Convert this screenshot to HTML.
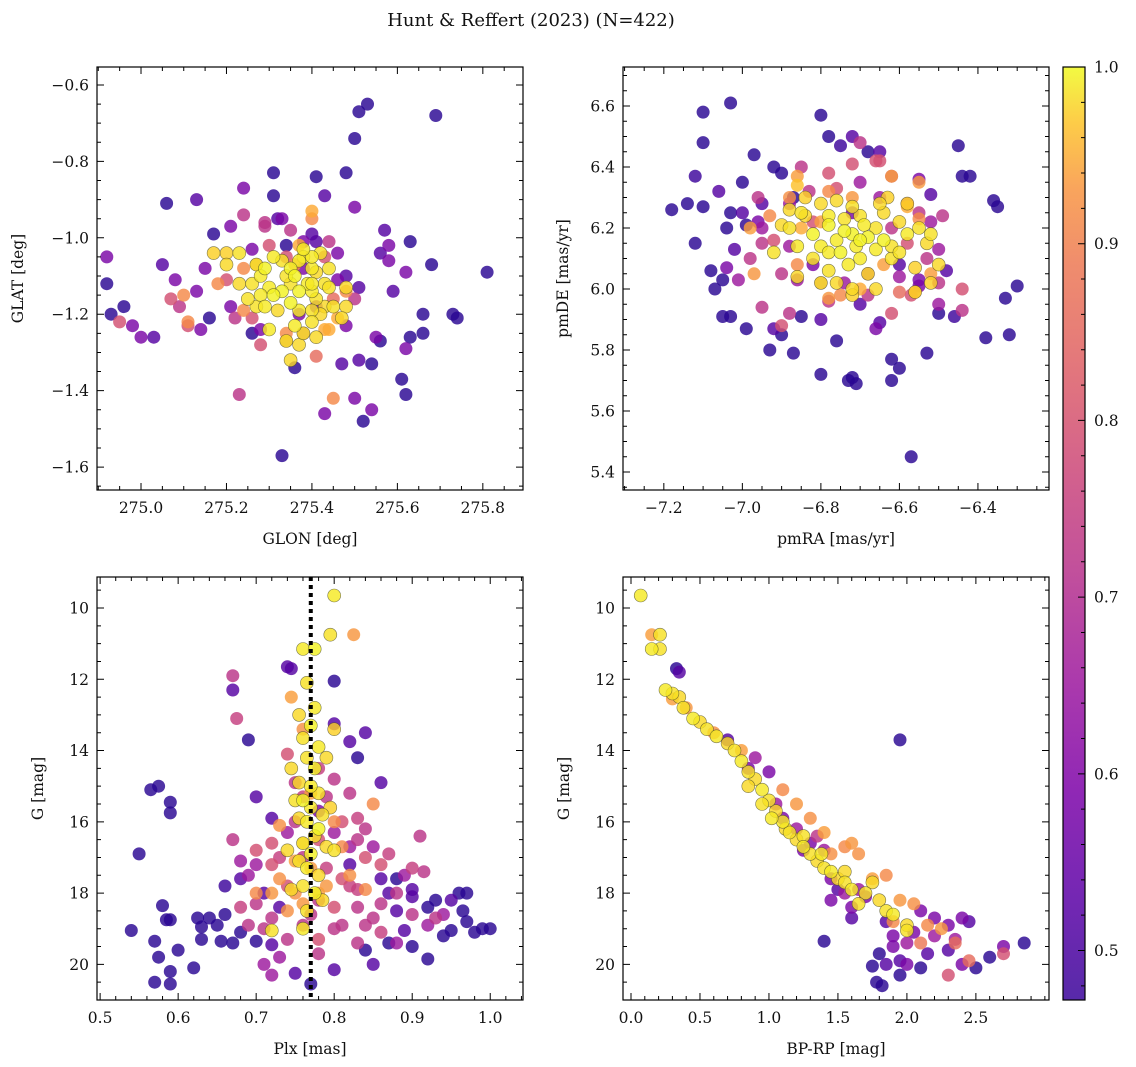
<!DOCTYPE html>
<html><head><meta charset="utf-8"><style>
body{margin:0;background:#fff;}
svg{display:block;font-family:"DejaVu Serif","Liberation Serif",serif;}
</style></head><body>
<svg id="fig" width="1136" height="1067" viewBox="0 0 1136 1067" xmlns="http://www.w3.org/2000/svg">
<defs>
<linearGradient id="cbgrad" x1="0" y1="1" x2="0" y2="0">
<stop offset="0" stop-color="#3a049a"/><stop offset="0.11" stop-color="#5c01a6"/><stop offset="0.23" stop-color="#7e03a8"/><stop offset="0.34" stop-color="#9c179e"/><stop offset="0.45" stop-color="#b52f8c"/><stop offset="0.57" stop-color="#cc4778"/><stop offset="0.68" stop-color="#de5f65"/><stop offset="0.79" stop-color="#ed7953"/><stop offset="0.87" stop-color="#f89540"/><stop offset="0.94" stop-color="#fdc328"/><stop offset="1" stop-color="#f0f921"/>
</linearGradient>
</defs>
<text x="531" y="26" text-anchor="middle" font-size="18" fill="#111">Hunt &amp; Reffert (2023) (N=422)</text>
<g id="layer"></g>
</svg>
<script>
// ---- Panel 1: GLON / GLAT ----
const p1Glon=[274.92,274.92,274.93,274.95,274.96,274.98,275.00,275.03,275.06,275.13,275.17,275.24,275.24,275.31,275.31,275.33,275.34,275.37,275.41,275.41,275.43,275.48,275.50,275.50,275.53,275.51,275.69,275.58,275.59,275.62,275.68,275.63,275.57,275.58,275.56,275.63,275.62,275.61,275.66,275.66,275.81,275.73,275.74,275.62,275.54,275.52,275.50,275.45,275.43,275.51,275.54,275.47,275.23,275.26,275.28,275.36,275.21,275.16,275.14,275.13,275.18,275.20,275.17,275.15,275.09,275.10,275.11,275.08,275.05,275.07,275.11,
275.55,275.56,275.48,275.46,275.51,275.48,275.50,275.48,275.46,275.44,275.40,275.38,275.34,275.30,275.29,275.26,275.27,275.29,275.21,275.32,275.33,275.38,275.35,275.36,275.40,275.37,275.40,275.41,275.43,275.45,275.46,275.43,275.38,275.34,275.34,275.28,275.26,275.22,275.24,275.20,275.24,275.41,
275.23,275.28,275.26,275.29,275.31,275.33,275.35,275.37,275.38,275.40,275.41,275.43,275.44,275.30,275.33,275.35,275.37,275.40,275.41,275.43,275.45,275.48,275.28,275.27,275.29,275.32,275.35,275.37,275.40,275.42,275.36,275.38,275.37,275.34,275.30,275.41,275.35,275.47,275.44,275.40,275.36,275.39,275.34,275.31,275.40,275.25,275.23,275.20,275.27,275.38,275.42,275.48,275.40,275.44];
const p1Glat=[-1.05,-1.12,-1.20,-1.22,-1.18,-1.23,-1.26,-1.26,-0.91,-0.90,-0.99,-0.87,-0.94,-0.89,-0.83,-1.57,-1.05,-1.20,-1.18,-0.84,-0.89,-0.83,-0.74,-0.92,-0.65,-0.67,-0.68,-1.06,-1.14,-1.09,-1.07,-1.01,-0.98,-1.02,-1.04,-1.26,-1.29,-1.37,-1.20,-1.25,-1.09,-1.20,-1.21,-1.41,-1.45,-1.48,-1.42,-1.42,-1.46,-1.32,-1.33,-1.33,-1.41,-1.25,-1.28,-1.34,-1.18,-1.21,-1.24,-1.14,-1.12,-1.04,-1.04,-1.08,-1.18,-1.15,-1.22,-1.11,-1.07,-1.16,-1.23,
-1.26,-1.27,-1.23,-1.11,-1.13,-1.14,-1.16,-1.10,-1.04,-1.01,-0.99,-1.01,-1.02,-1.02,-0.97,-1.03,-1.07,-0.96,-0.97,-0.95,-0.95,-1.08,-0.98,-1.07,-0.95,-1.02,-0.93,-1.01,-1.05,-1.16,-1.21,-1.24,-1.25,-1.27,-1.25,-1.24,-1.21,-1.21,-1.19,-1.11,-1.08,-1.31,
-1.04,-1.10,-1.12,-1.08,-1.05,-1.06,-1.08,-1.06,-1.05,-1.08,-1.09,-1.12,-1.13,-1.13,-1.14,-1.12,-1.14,-1.14,-1.16,-1.18,-1.18,-1.18,-1.15,-1.18,-1.18,-1.19,-1.17,-1.19,-1.19,-1.20,-1.23,-1.25,-1.28,-1.27,-1.24,-1.26,-1.32,-1.21,-1.08,-1.05,-1.10,-1.12,-1.10,-1.15,-1.12,-1.16,-1.12,-1.07,-1.07,-1.03,-1.04,-1.13,-1.22,-1.24];
const p1Prob=[0.6,0.5,0.5,0.75,0.5,0.6,0.6,0.55,0.5,0.55,0.5,0.6,0.7,0.5,0.5,0.5,0.75,0.6,0.6,0.5,0.55,0.5,0.5,0.6,0.5,0.5,0.5,0.6,0.55,0.6,0.5,0.5,0.55,0.6,0.55,0.5,0.6,0.5,0.5,0.5,0.5,0.5,0.5,0.5,0.6,0.5,0.6,0.85,0.6,0.55,0.5,0.55,0.7,0.5,0.75,0.5,0.6,0.5,0.6,0.6,0.85,0.95,0.95,0.6,0.7,0.85,0.85,0.6,0.55,0.75,0.75,
0.6,0.5,0.6,0.6,0.55,0.85,0.7,0.55,0.6,0.7,0.55,0.6,0.5,0.75,0.7,0.6,0.85,0.7,0.6,0.55,0.6,0.6,0.7,0.85,0.85,0.9,0.9,0.55,0.75,0.8,0.9,0.9,0.75,0.8,0.85,0.6,0.75,0.7,0.85,0.75,0.85,0.8,
0.97,0.98,0.97,0.99,0.98,0.97,0.99,0.98,0.97,0.98,0.96,0.97,0.97,0.98,0.99,0.97,0.99,0.98,0.97,0.96,0.97,0.96,0.98,0.97,0.98,0.96,0.99,0.98,0.97,0.96,0.98,0.97,0.96,0.97,0.98,0.96,0.96,0.96,0.97,0.98,0.99,0.98,0.97,0.99,0.98,0.97,0.96,0.96,0.97,0.98,0.97,0.96,0.97,0.9];
const p1XTicks=[275.0,275.2,275.4,275.6,275.8];
const p1XTickLabels=["275.0","275.2","275.4","275.6","275.8"];
const p1YTicks=[-0.6,-0.8,-1.0,-1.2,-1.4,-1.6];
const p1YTickLabels=["\u22120.6","\u22120.8","\u22121.0","\u22121.2","\u22121.4","\u22121.6"];

// ---- Panel 2: pmRA / pmDE ----
const p2Pmra=[-7.18,-7.14,-7.10,-7.10,-7.10,-7.12,-7.12,-7.08,-7.07,-7.06,-7.03,-7.00,-6.97,-7.02,-7.04,-7.05,-7.03,-7.05,-6.99,-7.00,-7.03,-6.96,-6.90,-6.95,-6.87,-6.92,-6.90,-6.92,-6.93,-6.87,-6.99,-6.85,-6.80,-6.80,-6.72,-6.71,-6.73,-6.62,-6.60,-6.62,-6.57,-6.53,-6.50,-6.46,-6.44,-6.45,-6.42,-6.36,-6.35,-6.33,-6.30,-6.32,-6.38,-6.48,-6.55,-6.60,-6.80,-6.78,-6.75,-6.72,-6.68,-6.65,-6.76,-6.70,-6.65,-6.55,-6.52,
-7.04,-7.01,-6.98,-6.95,-6.95,-6.90,-6.88,-6.86,-6.80,-6.85,-6.78,-6.72,-6.70,-6.66,-6.65,-6.62,-6.58,-6.55,-6.52,-6.49,-6.50,-6.53,-6.55,-6.50,-6.44,-6.44,-6.50,-6.66,-6.62,-6.68,-6.74,-6.78,-6.82,-6.88,-6.92,-6.95,-6.88,-6.83,-6.76,-6.70,-6.62,-6.58,-6.60,-6.68,-6.72,-6.82,-6.90,-6.96,-6.60,-6.57,-6.65,
-6.98,-6.93,-6.97,-6.86,-6.78,-6.62,-6.58,-6.55,-6.55,-6.52,-6.56,-6.70,-6.78,-6.75,-6.64,-6.88,-6.85,-6.72,-6.86,-6.80,
-6.88,-6.86,-6.84,-6.82,-6.82,-6.80,-6.80,-6.78,-6.78,-6.76,-6.75,-6.74,-6.73,-6.72,-6.71,-6.70,-6.70,-6.68,-6.68,-6.66,-6.66,-6.64,-6.64,-6.62,-6.60,-6.58,-6.58,-6.55,-6.53,-6.52,-6.56,-6.76,-6.80,-6.72,-6.85,-6.90,-6.92,-6.86,-6.78,-6.74,-6.69,-6.62,-6.60,-6.65,-6.63,-6.72,-6.76,-6.84,-6.88,-6.56,-6.52,-6.50,-6.72,-6.66,-6.78,-6.70,-6.86];
const p2Pmde=[6.26,6.28,6.58,6.48,6.27,6.37,6.15,6.06,6.00,6.32,6.61,6.35,6.44,6.13,6.20,6.03,5.91,5.91,6.21,6.25,6.25,6.22,6.38,6.28,6.30,6.40,5.85,5.87,5.80,5.79,5.87,5.91,5.90,5.72,5.71,5.69,5.70,5.70,5.74,5.77,5.45,5.79,5.92,5.91,6.37,6.47,6.37,6.29,6.27,5.97,6.01,5.85,5.84,6.06,6.01,6.08,6.57,6.50,6.47,6.50,6.45,6.45,5.83,5.95,5.89,6.36,6.31,
6.07,6.03,6.10,6.20,5.94,5.88,5.92,6.03,6.02,6.40,6.38,6.41,6.48,6.42,6.30,6.37,6.28,6.25,6.22,6.24,6.13,6.10,6.03,6.02,6.00,5.93,5.95,5.87,5.92,5.98,6.02,5.96,6.08,6.14,6.16,6.15,6.28,6.32,6.33,6.35,6.20,6.15,6.04,6.05,6.25,6.22,6.05,6.30,5.99,5.98,6.42,
6.20,6.24,6.05,6.37,6.32,6.37,6.27,6.23,6.35,6.05,5.99,6.00,5.97,5.98,6.08,6.30,6.20,6.30,6.08,6.22,
6.20,6.14,6.24,6.18,6.10,6.14,6.28,6.21,6.06,6.16,6.12,6.23,6.08,6.18,6.14,6.24,6.10,6.17,6.05,6.20,6.13,6.25,6.16,6.10,6.22,6.18,6.28,6.20,6.15,6.18,6.07,6.02,6.02,5.98,6.25,6.21,6.12,6.04,6.12,6.19,6.21,6.14,6.12,6.28,6.30,6.27,6.29,6.30,6.26,5.99,6.02,6.08,6.00,6.00,6.24,6.16,6.34];
const p2Prob=[0.5,0.5,0.5,0.5,0.5,0.52,0.5,0.5,0.5,0.55,0.5,0.5,0.5,0.55,0.5,0.5,0.5,0.5,0.5,0.55,0.5,0.6,0.5,0.55,0.5,0.5,0.5,0.55,0.5,0.5,0.5,0.5,0.55,0.5,0.5,0.5,0.5,0.5,0.5,0.5,0.5,0.5,0.5,0.52,0.5,0.5,0.5,0.5,0.5,0.5,0.5,0.5,0.5,0.55,0.6,0.55,0.5,0.5,0.52,0.55,0.5,0.55,0.5,0.55,0.55,0.6,0.55,
0.6,0.65,0.7,0.65,0.7,0.75,0.7,0.65,0.75,0.7,0.75,0.75,0.7,0.75,0.65,0.7,0.75,0.7,0.65,0.7,0.65,0.7,0.6,0.7,0.75,0.7,0.65,0.6,0.75,0.7,0.65,0.7,0.6,0.65,0.75,0.7,0.65,0.7,0.75,0.65,0.7,0.75,0.65,0.7,0.6,0.75,0.7,0.7,0.8,0.75,0.75,
0.88,0.85,0.87,0.88,0.85,0.88,0.9,0.85,0.87,0.88,0.86,0.9,0.87,0.85,0.88,0.86,0.9,0.87,0.85,0.88,
0.97,0.98,0.96,0.99,0.97,0.98,0.96,0.99,0.97,0.98,0.99,0.97,0.98,0.99,0.98,0.97,0.98,0.99,0.96,0.97,0.98,0.96,0.99,0.97,0.96,0.98,0.95,0.97,0.96,0.97,0.95,0.96,0.97,0.95,0.97,0.96,0.97,0.96,0.98,0.99,0.98,0.97,0.97,0.96,0.95,0.97,0.96,0.95,0.96,0.95,0.95,0.96,0.96,0.96,0.98,0.99,0.93];
const p2XTicks=[-7.2,-7.0,-6.8,-6.6,-6.4];
const p2XTickLabels=["\u22127.2","\u22127.0","\u22126.8","\u22126.6","\u22126.4"];
const p2YTicks=[5.4,5.6,5.8,6.0,6.2,6.4,6.6];
const p2YTickLabels=["5.4","5.6","5.8","6.0","6.2","6.4","6.6"];

// ---- Panel 3: Plx / G ----
const p3Plx=[0.54,0.565,0.575,0.55,0.59,0.59,0.57,0.575,0.58,0.585,0.59,0.57,0.59,0.59,0.60,0.62,0.625,0.63,0.64,0.655,0.66,0.66,0.68,0.69,0.70,0.72,0.74,0.745,0.80,0.80,0.82,0.83,0.84,0.86,0.87,0.88,0.90,0.92,0.93,0.95,0.96,0.97,0.965,0.97,0.98,0.99,1.0,0.95,0.94,0.92,0.90,0.89,0.87,0.85,0.84,0.80,0.77,0.75,0.72,0.70,0.68,0.67,0.65,0.63,0.71,0.73,0.88,0.90,0.82,0.86,0.78,0.67,
0.67,0.675,0.67,0.68,0.69,0.70,0.70,0.72,0.72,0.73,0.74,0.74,0.75,0.75,0.76,0.76,0.78,0.78,0.79,0.80,0.80,0.81,0.82,0.82,0.83,0.83,0.84,0.84,0.85,0.85,0.86,0.87,0.88,0.89,0.9,0.91,0.92,0.86,0.83,0.81,0.78,0.76,0.73,0.71,0.69,0.68,0.70,0.72,0.74,0.77,0.80,0.82,0.84,0.86,0.88,0.90,0.915,0.93,0.94,0.74,0.78,0.79,0.80,0.81,0.83,0.83,0.72,0.71,0.78,
0.825,0.745,0.76,0.85,0.75,0.73,0.76,0.79,0.82,0.84,0.78,0.75,0.72,0.70,0.74,0.77,0.81,0.73,0.77,0.80,0.76,
0.80,0.795,0.76,0.775,0.765,0.775,0.755,0.77,0.76,0.78,0.765,0.775,0.755,0.77,0.78,0.76,0.77,0.785,0.755,0.765,0.78,0.775,0.76,0.79,0.77,0.755,0.765,0.78,0.76,0.775,0.785,0.765,0.76,0.72,0.74,0.75,0.79,0.795,0.80,0.745,0.80,0.745];
const p3G=[19.05,15.1,15.0,16.9,15.45,15.75,19.35,19.8,18.35,18.75,18.75,20.5,20.55,20.2,19.6,20.1,18.7,18.95,18.7,19.35,18.6,17.8,17.6,13.7,15.3,15.9,11.65,11.7,12.05,13.25,13.75,14.2,13.5,14.9,18.0,17.6,17.9,18.4,18.2,18.2,18.0,18.0,18.5,18.8,19.1,19.0,19.0,19.05,19.2,19.85,19.5,19.05,19.4,20.0,19.6,20.15,20.55,20.25,19.45,19.35,19.1,19.4,18.9,19.3,18.0,18.4,18.5,18.1,17.2,17.6,15.7,12.3,
11.9,13.1,16.5,17.1,17.5,16.8,18.3,17.2,18.7,17.0,16.3,17.8,14.9,16.0,15.3,18.9,16.5,18.2,17.3,16.3,19.0,17.6,15.2,16.7,17.9,18.4,16.2,17.0,16.7,18.7,17.2,16.9,18.0,17.5,18.6,16.4,18.9,19.1,19.4,18.9,19.3,17.0,19.8,19.0,18.9,18.4,17.2,16.6,19.3,18.6,18.4,17.8,18.9,18.3,19.4,17.3,17.4,18.7,18.6,14.1,14.5,15.3,14.8,16.0,15.9,16.5,20.3,20.0,19.7,
10.75,12.5,13.4,15.5,17.1,17.6,16.6,17.8,17.5,17.9,18.0,18.0,18.0,18.0,18.5,17.3,16.7,16.1,15.2,16.0,18.3,
9.65,10.75,11.15,11.15,12.1,12.8,13.0,13.3,13.65,13.9,14.2,14.5,14.9,15.0,15.2,15.4,15.6,15.8,15.9,16.0,16.2,16.4,16.6,16.7,16.9,17.1,17.3,17.5,17.8,18.0,18.2,18.5,19.0,19.05,16.8,15.4,14.2,15.6,16.8,17.9,13.4,14.5];
const p3Prob=[0.5,0.5,0.5,0.5,0.5,0.5,0.5,0.5,0.5,0.5,0.5,0.5,0.5,0.5,0.5,0.5,0.5,0.5,0.5,0.5,0.5,0.52,0.55,0.5,0.55,0.55,0.55,0.55,0.5,0.55,0.55,0.5,0.55,0.55,0.55,0.5,0.55,0.5,0.5,0.55,0.5,0.5,0.5,0.5,0.5,0.5,0.5,0.5,0.5,0.5,0.5,0.55,0.5,0.55,0.5,0.55,0.5,0.55,0.55,0.5,0.5,0.5,0.5,0.5,0.55,0.55,0.55,0.55,0.55,0.55,0.6,0.55,
0.7,0.72,0.7,0.65,0.65,0.75,0.7,0.75,0.7,0.72,0.65,0.75,0.7,0.7,0.72,0.7,0.75,0.7,0.72,0.65,0.7,0.75,0.7,0.65,0.72,0.7,0.7,0.75,0.65,0.7,0.75,0.72,0.7,0.65,0.7,0.7,0.65,0.72,0.7,0.7,0.75,0.7,0.65,0.7,0.7,0.72,0.65,0.75,0.7,0.7,0.75,0.72,0.7,0.7,0.65,0.72,0.7,0.7,0.65,0.75,0.72,0.7,0.7,0.75,0.72,0.7,0.65,0.65,0.7,
0.87,0.88,0.86,0.85,0.88,0.86,0.85,0.87,0.86,0.85,0.88,0.86,0.87,0.85,0.86,0.87,0.85,0.86,0.88,0.85,0.87,
0.98,0.97,0.98,0.99,0.97,0.98,0.96,0.99,0.97,0.98,0.97,0.99,0.96,0.98,0.97,0.99,0.98,0.97,0.96,0.98,0.99,0.97,0.98,0.96,0.99,0.97,0.98,0.96,0.97,0.99,0.96,0.97,0.98,0.97,0.96,0.97,0.96,0.95,0.97,0.96,0.95,0.96];
const p3XTicks=[0.5,0.6,0.7,0.8,0.9,1.0];
const p3XTickLabels=["0.5","0.6","0.7","0.8","0.9","1.0"];
const p3YTicks=[10,12,14,16,18,20];
const p3YTickLabels=["10","12","14","16","18","20"];
const p3PlxMarker=[0.77];

// ---- Panel 4: BP-RP / G ----
const p4Color=[0.07,0.15,0.21,0.15,0.21,0.25,0.3,0.35,0.38,0.45,0.5,0.55,0.62,0.7,0.75,0.8,0.85,0.9,0.95,1.0,1.05,1.1,1.15,1.2,1.25,1.3,1.35,1.4,1.45,1.5,1.55,1.6,1.7,1.8,1.85,1.9,2.0,2.0,0.85,0.95,1.02,1.12,1.25,1.38,1.55,1.65,1.75,
0.30,0.40,0.6,0.8,1.1,1.2,1.3,1.4,1.55,1.6,1.65,1.75,1.85,1.95,2.05,2.15,2.25,2.35,2.3,2.45,2.7,1.45,1.9,2.1,
0.35,0.33,0.9,1.0,1.1,1.2,1.3,1.35,1.4,1.45,1.5,1.45,1.55,1.6,1.6,1.95,1.4,1.75,1.78,1.82,1.85,1.8,1.9,1.95,2.0,2.05,2.1,2.15,2.2,2.3,2.35,2.4,2.45,2.4,2.5,2.6,2.7,2.85,2.3,2.2,2.1,1.95,1.85,1.7,1.65,0.85,1.05,1.25,0.7,2.0,1.9];
const p4G=[9.65,10.75,10.75,11.15,11.15,12.3,12.4,12.5,12.8,13.1,13.2,13.4,13.6,13.8,14.0,14.3,14.6,14.8,15.1,15.4,15.7,16.0,16.3,16.5,16.7,16.9,17.1,17.3,17.4,17.6,17.7,17.9,18.0,18.2,18.5,18.6,18.9,19.05,15.0,15.5,15.9,16.2,16.4,16.9,17.4,18.3,17.7,
12.55,12.8,13.5,14.0,15.1,15.5,15.9,16.3,16.7,16.6,16.9,17.6,17.5,18.2,18.3,18.9,19.0,19.4,20.3,19.9,19.7,16.9,18.8,19.4,
11.8,11.7,14.2,14.6,15.9,16.2,16.6,16.4,16.8,17.6,17.9,18.2,18.0,18.4,18.7,13.7,19.35,20.05,20.5,20.6,20.0,19.7,19.5,20.3,20.0,19.1,20.1,19.7,18.7,18.9,19.3,18.7,18.8,20.0,20.1,19.8,19.5,19.4,19.6,19.2,18.5,19.9,18.8,18.1,17.9,14.5,15.5,16.8,13.7,19.4,19.2];
const p4Prob=[0.98,0.88,0.97,0.98,0.97,0.98,0.97,0.96,0.97,0.98,0.96,0.97,0.98,0.96,0.97,0.98,0.97,0.96,0.98,0.97,0.96,0.98,0.97,0.96,0.98,0.97,0.96,0.97,0.98,0.96,0.97,0.98,0.97,0.96,0.97,0.98,0.96,0.97,0.96,0.97,0.98,0.96,0.97,0.98,0.96,0.97,0.96,
0.88,0.87,0.86,0.88,0.85,0.87,0.86,0.88,0.85,0.87,0.86,0.88,0.85,0.87,0.86,0.85,0.87,0.8,0.75,0.8,0.75,0.86,0.85,0.82,
0.55,0.5,0.65,0.6,0.6,0.65,0.6,0.7,0.65,0.6,0.55,0.6,0.65,0.6,0.55,0.5,0.5,0.5,0.5,0.5,0.55,0.5,0.6,0.5,0.6,0.6,0.5,0.55,0.6,0.6,0.65,0.6,0.55,0.6,0.5,0.5,0.6,0.5,0.55,0.65,0.6,0.55,0.55,0.6,0.65,0.6,0.65,0.6,0.55,0.65,0.6];
const p4XTicks=[0.0,0.5,1.0,1.5,2.0,2.5];
const p4XTickLabels=["0.0","0.5","1.0","1.5","2.0","2.5"];
const p4YTicks=[10,12,14,16,18,20];
const p4YTickLabels=["10","12","14","16","18","20"];

// ---- Colorbar ----
const cbTicks=[0.5,0.6,0.7,0.8,0.9,1.0];
const cbTickLabels=["0.5","0.6","0.7","0.8","0.9","1.0"];

const NS="http://www.w3.org/2000/svg";
const layer=document.getElementById('layer');
function mk(tag,attrs,parent){const e=document.createElementNS(NS,tag);for(const k in attrs)e.setAttribute(k,attrs[k]);(parent||layer).appendChild(e);return e;}

const stops=[[0,[13,8,135]],[0.1,[65,4,157]],[0.2,[106,0,168]],[0.3,[143,13,164]],[0.4,[177,42,144]],[0.5,[204,71,120]],[0.6,[225,100,98]],[0.7,[242,132,75]],[0.8,[252,166,54]],[0.9,[252,206,37]],[1,[240,249,33]]];
function plasma(t){t=Math.max(0,Math.min(1,t));for(let i=1;i<stops.length;i++){if(t<=stops[i][0]){const a=stops[i-1],b=stops[i];const f=(t-a[0])/(b[0]-a[0]);const c=a[1].map((v,j)=>Math.round(v+(b[1][j]-v)*f));return `rgb(${c[0]},${c[1]},${c[2]})`;}}return 'rgb(240,249,33)';}
const VMIN=0.472,VMAX=1.0;
function cmap(p){return plasma((p-VMIN)/(VMAX-VMIN));}
const FS=15.5;

function panel(cfg){
  const g=mk('g',{});
  
  
  const {x0,x1,y0,y1,xmin,xmax,ymin,ymax}=cfg;
  const sx=v=>x0+(v-xmin)/(xmax-xmin)*(x1-x0);
  const sy=cfg.invert?(v=>y0+(v-ymin)/(ymax-ymin)*(y1-y0)):(v=>y1-(v-ymin)/(ymax-ymin)*(y1-y0));
  const idx=cfg.xs.map((_,i)=>i).sort((a,b)=>cfg.ps[a]-cfg.ps[b]);
  const pg=mk('g',{},g);
  
  
  idx.forEach(i=>{
    const c=mk('circle',{cx:sx(cfg.xs[i]).toFixed(1),cy:sy(cfg.ys[i]).toFixed(1),r:6.5,fill:cmap(cfg.ps[i]),'fill-opacity':0.82,stroke:cfg.ps[i]>0.93?'rgba(70,70,40,0.7)':'none','stroke-width':0.6},pg);
    
    
  });
  if(cfg.extra) cfg.extra(g,sx,sy);
  const fr=mk('rect',{x:x0,y:y0,width:x1-x0,height:y1-y0,fill:'none',stroke:'#000','stroke-width':1.2},g);
  
  
  let tk='';
  const lo=Math.min(xmin,xmax),hi=Math.max(xmin,xmax);
  for(let v=Math.ceil(lo/cfg.xminor)*cfg.xminor;v<=hi+1e-9;v+=cfg.xminor){const X=sx(v);const L=cfg.xTicks.some(t=>Math.abs(t-v)<1e-6)?7:4;tk+=`M${X},${y1}v${-L}M${X},${y0}v${L}`;}
  const ylo=Math.min(ymin,ymax),yhi=Math.max(ymin,ymax);
  for(let v=Math.ceil(ylo/cfg.yminor)*cfg.yminor;v<=yhi+1e-9;v+=cfg.yminor){const Y=sy(v);const L=cfg.yTicks.some(t=>Math.abs(t-v)<1e-6)?7:4;tk+=`M${x0},${Y}h${L}M${x1},${Y}h${-L}`;}
  const tp=mk('path',{d:tk,stroke:'#000','stroke-width':1,fill:'none'},g);
  
  
  cfg.xTicks.forEach((v,i)=>{const t=mk('text',{x:sx(v),y:y1+23,'text-anchor':'middle','font-size':FS,fill:'#111'},g);t.textContent=cfg.xLabels[i];
    
    });
  cfg.yTicks.forEach((v,i)=>{const t=mk('text',{x:x0-8,y:sy(v)+5.5,'text-anchor':'end','font-size':FS,fill:'#111'},g);t.textContent=cfg.yLabels[i];
    
    });
  const xl=mk('text',{x:(x0+x1)/2,y:y1+54,'text-anchor':'middle','font-size':FS,fill:'#111'},g);xl.textContent=cfg.xTitle;
  
  
  const yx=cfg.yTitleX,yy=(y0+y1)/2;
  const yl=mk('text',{x:yx,y:yy,'text-anchor':'middle','font-size':FS,fill:'#111',transform:`rotate(-90 ${yx} ${yy})`},g);yl.textContent=cfg.yTitle;
  
  
}

panel({name:'glon-glat-panel',x0:97,x1:523,y0:67,y1:490,xmin:274.897,xmax:275.894,ymin:-1.66,ymax:-0.553,xs:p1Glon,ys:p1Glat,ps:p1Prob,xTicks:p1XTicks,xLabels:p1XTickLabels,yTicks:p1YTicks,yLabels:p1YTickLabels,xminor:0.05,yminor:0.05,xTitle:'GLON [deg]',yTitle:'GLAT [deg]',yTitleX:23});
panel({name:'pm-panel',x0:623,x1:1049,y0:67,y1:490,xmin:-7.304,xmax:-6.219,ymin:5.341,ymax:6.728,xs:p2Pmra,ys:p2Pmde,ps:p2Prob,xTicks:p2XTicks,xLabels:p2XTickLabels,yTicks:p2YTicks,yLabels:p2YTickLabels,xminor:0.05,yminor:0.05,xTitle:'pmRA [mas/yr]',yTitle:'pmDE [mas/yr]',yTitleX:568});
panel({name:'plx-g-panel',x0:97,x1:523,y0:577,y1:1000,xmin:0.496,xmax:1.042,ymin:9.13,ymax:21.0,invert:true,xs:p3Plx,ys:p3G,ps:p3Prob,xTicks:p3XTicks,xLabels:p3XTickLabels,yTicks:p3YTicks,yLabels:p3YTickLabels,xminor:0.02,yminor:0.5,xTitle:'Plx [mas]',yTitle:'G [mag]',yTitleX:43,
  extra:(g,sx,sy)=>{p3PlxMarker.forEach(v=>{const l=mk('line',{x1:sx(v),x2:sx(v),y1:577,y2:1000,stroke:'#000','stroke-width':4,'stroke-dasharray':'4 4'},g);
    
    });}});
panel({name:'cmd-panel',x0:623,x1:1049,y0:577,y1:1000,xmin:-0.058,xmax:3.03,ymin:9.13,ymax:21.0,invert:true,xs:p4Color,ys:p4G,ps:p4Prob,xTicks:p4XTicks,xLabels:p4XTickLabels,yTicks:p4YTicks,yLabels:p4YTickLabels,xminor:0.1,yminor:0.5,xTitle:'BP-RP [mag]',yTitle:'G [mag]',yTitleX:569});

(function(){
  const g=mk('g',{});
  
  
  const x0=1063,x1=1085,y0=67,y1=1000;
  const sy=v=>y1-(v-VMIN)/(VMAX-VMIN)*(y1-y0);
  mk('rect',{x:x0,y:y0,width:x1-x0,height:y1-y0,fill:'url(#cbgrad)','fill-opacity':0.85,stroke:'#000','stroke-width':1.2},g);
  let d='';
  for(let v=0.48;v<=1.0001;v+=0.02){const major=cbTicks.some(t=>Math.abs(t-v)<1e-6);d+=`M${x1},${sy(v)}h${major?-7:-4}`;}
  mk('path',{d:d,stroke:'#000','stroke-width':1},g);
  cbTicks.forEach((v,i)=>{const t=mk('text',{x:x1+9,y:sy(v)+5.5,'font-size':FS,fill:'#111'},g);t.textContent=cbTickLabels[i];
    
    });
})();
</script>
</body></html>
